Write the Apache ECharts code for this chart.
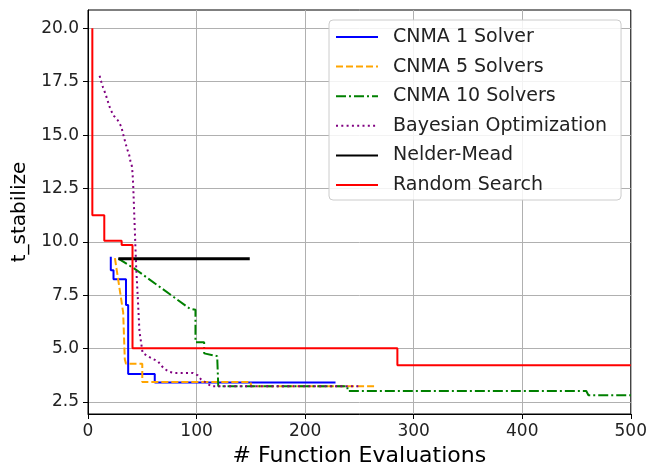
<!DOCTYPE html>
<html>
<head>
<meta charset="utf-8">
<script src="https://cdn.jsdelivr.net/npm/echarts@6/dist/echarts.min.js"></script>
<style>html,body{margin:0;padding:0;background:#fff;}#c{width:650px;height:472px;}</style>
</head>
<body>
<div id="c"></div>
<script>
const xTicks = [0, 100, 200, 300, 400, 500];
const yTicks = [2.5, 5.0, 7.5, 10.0, 12.5, 15.0, 17.5, 20.0];

const seriesNames = ["CNMA 1 Solver", "CNMA 5 Solvers", "CNMA 10 Solvers", "Bayesian Optimization", "Nelder-Mead", "Random Search"];

const cnma1X = [21, 21, 23.5, 23.5, 35, 35, 37, 37, 61.5, 61.5, 228];
const cnma1Y = [9.3, 8.67, 8.67, 8.25, 8.25, 7.04, 7.04, 3.81, 3.81, 3.42, 3.42];

const cnma5X = [24.8, 26.3, 32.4, 33.9, 35, 50, 50, 150, 150, 265];
const cnma5Y = [9.24, 8.74, 6.7, 4.5, 4.29, 4.29, 3.44, 3.44, 3.24, 3.24];

const cnma10X = [28, 45, 93.6, 99, 99, 107, 107, 119, 120, 120, 239, 239, 459, 461, 500];
const cnma10Y = [9.22, 8.67, 6.88, 6.82, 5.3, 5.3, 4.78, 4.65, 4.65, 3.24, 3.24, 3.02, 3.02, 2.82, 2.82];

const bayesX = [10.7, 12.2, 13.8, 15.9, 17.7, 19.3, 20.8, 23.9, 27.5, 30.6, 33, 36, 37.9, 39.1, 40.4, 41, 41.6, 42.2, 44.3, 45.9, 47.4, 50.3, 56.8, 64.5, 69.7, 74.6, 80, 96.6, 101.2, 104.3, 108.9, 113.5, 250];
const bayesY = [17.78, 17.5, 17.24, 16.96, 16.68, 16.42, 16.19, 15.9, 15.69, 15.41, 14.92, 14.36, 14.08, 13.78, 13.55, 13.24, 12.7, 11.87, 8.9, 7.35, 5.81, 4.8, 4.6, 4.4, 4.08, 3.92, 3.86, 3.86, 3.75, 3.55, 3.4, 3.24, 3.24];

const nelderX = [28, 149];
const nelderY = [9.21, 9.21];

const randomX = [4, 4, 15, 15, 31, 31, 41, 41, 285, 285, 500];
const randomY = [20, 11.25, 11.25, 10.05, 10.05, 9.85, 9.85, 5.02, 5.02, 4.22, 4.22];

function pairs(xs, ys) { return xs.map((x, i) => [x, ys[i]]); }

const FONT = "DejaVu Sans";
const chart = echarts.init(document.getElementById('c'), null, {renderer: 'canvas'});

function lineSeries(name, xs, ys, color, type, width) {
  return {
    name: name, type: 'line', data: pairs(xs, ys), symbol: 'none', showSymbol: false,
    lineStyle: {color: color, width: width, type: type, cap: 'butt'},
    itemStyle: {color: color}, animation: false, z: 3
  };
}

chart.setOption({
  animation: false,
  backgroundColor: '#fff',
  grid: {left: 88, right: 17, top: 10, bottom: 54, show: true, borderColor: '#000', borderWidth: 1, backgroundColor: 'transparent'},
  xAxis: {
    type: 'value', min: 0, max: 500, interval: 100,
    name: '# Function Evaluations', nameLocation: 'middle', nameGap: 31,
    nameTextStyle: {fontFamily: FONT, fontSize: 22, color: '#000'},
    axisLine: {show: true, lineStyle: {color: '#000', width: 1}},
    axisTick: {show: true, inside: false, length: 5, lineStyle: {color: '#000'}},
    axisLabel: {fontFamily: FONT, fontSize: 17, color: '#222', margin: 9},
    splitLine: {show: true, lineStyle: {color: '#b0b0b0', width: 1}}
  },
  yAxis: {
    type: 'value', min: 1.94, max: 20.86,
    name: 't_stabilize', nameLocation: 'middle', nameGap: 57,
    nameTextStyle: {fontFamily: FONT, fontSize: 20, color: '#000'},
    axisLine: {show: true, lineStyle: {color: '#000', width: 1}},
    axisTick: {show: true, inside: false, length: 5, lineStyle: {color: '#000'}, customValues: yTicks},
    axisLabel: {fontFamily: FONT, fontSize: 17, color: '#222', margin: 9, customValues: yTicks,
      formatter: v => v.toFixed(1)},
    splitLine: {show: true, lineStyle: {color: '#b0b0b0', width: 1}}
  },
  legend: {
    orient: 'vertical', left: 329, top: 20,
    padding: [7, 14, 5, 6], itemGap: 9.6, itemWidth: 42, itemHeight: 14,
    backgroundColor: 'rgba(255,255,255,0.85)', borderColor: '#cccccc', borderWidth: 1, borderRadius: 4,
    itemStyle: {opacity: 0},
    textStyle: {fontFamily: FONT, fontSize: 19, color: '#222', lineHeight: 20, padding: [0, 0, 0, 10]},
    data: seriesNames,
    z: 10
  },
  series: [
    lineSeries(seriesNames[0], cnma1X, cnma1Y, '#0000ff', 'solid', 2),
    lineSeries(seriesNames[1], cnma5X, cnma5Y, '#ffa500', [7, 3], 2),
    lineSeries(seriesNames[2], cnma10X, cnma10Y, '#008000', [10, 3, 2, 3], 2),
    lineSeries(seriesNames[3], bayesX, bayesY, '#800080', [2, 3.3], 2),
    lineSeries(seriesNames[4], nelderX, nelderY, '#000000', 'solid', 3),
    lineSeries(seriesNames[5], randomX, randomY, '#ff0000', 'solid', 2)
  ]
});
</script>
</body>
</html>
